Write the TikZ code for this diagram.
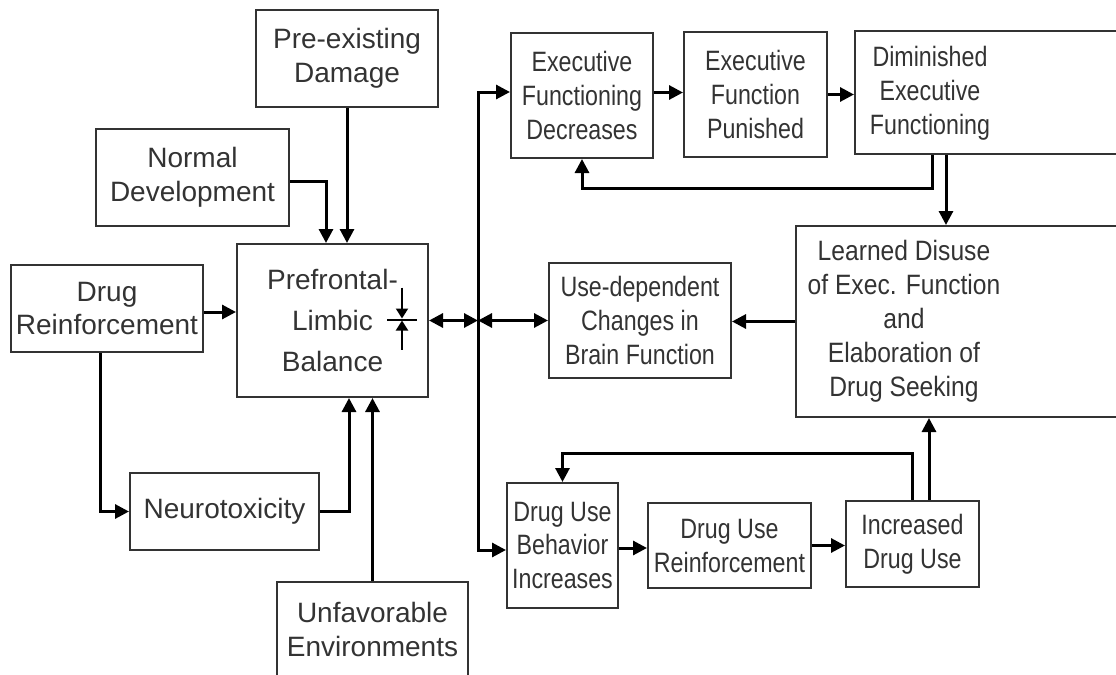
\documentclass[tikz,border=0pt]{standalone}
\usepackage{fontspec}
\setmainfont{Liberation Sans}
\newfontfamily\narrowfont[FakeStretch=0.83]{Liberation Sans}
\newfontfamily\disusefont[FakeStretch=0.88]{Liberation Sans}
\usetikzlibrary{arrows.meta, positioning}

\begin{document}
\begin{tikzpicture}[
    x=0.5pt, y=-0.5pt,
    every node/.style = {font=\fontsize{14}{17}\selectfont, text=black!80},
    box/.style        = {rectangle, draw=black!80, line width=1pt,
                         align=center, inner sep=1pt},
    narrowbox/.style  = {box, font=\fontsize{14}{17}\narrowfont},
    solidarrow/.style = {-{Triangle[length=7pt,width=7pt]}, line width=1.5pt},
    doublearrow/.style = {{Triangle[length=7pt,width=7pt]}-{Triangle[length=7pt,width=7pt]},
                          line width=1.5pt},
    smallarrow/.style = {-{Triangle[length=5pt,width=6pt]}, line width=1pt}
  ]
  \useasboundingbox (0,0) rectangle (1116,675);

  % left side
  \node[box, minimum width=91pt, minimum height=48.5pt] (predamage) at (347,58.5) {Pre-existing\\Damage};
  \node[box, minimum width=96.5pt, minimum height=48.5pt] (normaldev) at (192.5,177.5) {Normal\\Development};
  \node[box, minimum width=96pt, minimum height=43.5pt] (drugreinf) at (107,308.5) {Drug\\Reinforcement};
  \node[box, minimum width=95.5pt, minimum height=76.5pt,
        font=\fontsize{14}{20.5}\selectfont] (balance) at (332.5,320.5) {Prefrontal-\\Limbic\\Balance};
  \node[box, minimum width=94.5pt, minimum height=38.5pt] (neurotox) at (224.5,511.5) {Neurotoxicity};
  \node[box, minimum width=95.5pt, minimum height=47.5pt] (unfavenv) at (372.5,629.5) {Unfavorable\\Environments};

  % right side
  \node[narrowbox, minimum width=71pt, minimum height=62.5pt] (efdecr) at (582,95.5) {Executive\\Functioning\\Decreases};
  \node[narrowbox, minimum width=71.5pt, minimum height=62.5pt] (efpun) at (755.5,94.5) {Executive\\Function\\Punished};
  \node[narrowbox, minimum width=135pt, minimum height=61.5pt] (efdim) at (990,92.5) {};
  \node[align=center, font=\fontsize{14}{17}\narrowfont] (efdimtext) at (930,93) {Diminished\\Executive\\Functioning};
  \node[box, minimum width=164.5pt, minimum height=95.5pt] (disuse) at (960.5,321.5) {};
  \node[align=center, font=\fontsize{14}{17}\disusefont] (disusetext) at (904,321)
       {Learned Disuse\\of Exec. Function\\and\\Elaboration of\\Drug Seeking};
  \node[narrowbox, minimum width=91pt, minimum height=57.5pt] (usedep) at (640,320.5) {Use-dependent\\Changes in\\Brain Function};
  \node[narrowbox, minimum width=55.5pt, minimum height=62.5pt] (usebehav) at (562.5,545.5) {Drug Use\\Behavior\\Increases};
  \node[narrowbox, minimum width=81.5pt, minimum height=42.5pt] (usereinf) at (729.5,545.5) {Drug Use\\Reinforcement};
  \node[narrowbox, minimum width=66.5pt, minimum height=43pt] (moreuse) at (912.5,544) {Increased\\Drug Use};

  \coordinate (busmid) at (478,320.5);
  \coordinate (valve) at (402,319.5);

  % arrows into the balance box
  \draw[solidarrow] (predamage.south) -- (predamage.south |- balance.north);
  \draw[solidarrow] ([yshift=-1.75pt]normaldev.east) -| ([xshift=-3.25pt]balance.north);
  \draw[solidarrow] ([yshift=-1.75pt]drugreinf.east) -- ([yshift=-1.75pt]drugreinf.east -| balance.west);
  \draw[solidarrow] ([xshift=-3.5pt]drugreinf.south) |- (neurotox.west);
  \draw[solidarrow] (neurotox.east) -| ([xshift=8.25pt]balance.south);
  \draw[solidarrow] (unfavenv.north) -- (unfavenv.north |- balance.south);

  % balance symbol
  \draw[smallarrow] (valve) ++(0,-32) -- ++(0,31);
  \draw[smallarrow] (valve) ++(0,30) -- ++(0,-29);
  \draw[line width=1pt] (valve) ++(-15,0) -- ++(30,0);

  % bus
  \draw[doublearrow] (balance.east) -- (busmid);
  \draw[doublearrow] (busmid) -- (usedep.west);
  \draw[solidarrow] (busmid) |- ([yshift=1.75pt]efdecr.west);
  \draw[solidarrow] (busmid) |- ([yshift=-2.25pt]usebehav.west);

  % executive loop
  \draw[solidarrow] ([yshift=1.5pt]efdecr.east) -- ([yshift=1.5pt]efdecr.east -| efpun.west);
  \draw[solidarrow] (efpun.east) -- (efpun.east -| efdim.west);
  \draw[solidarrow] ([xshift=-29pt]efdim.south) -- ++(0,33) -| (efdecr.south);
  \draw[solidarrow] ([xshift=-22pt]efdim.south) -- ([xshift=-22pt]efdim.south |- disuse.north);
  \draw[solidarrow] (disuse.west) -- (disuse.west -| usedep.east);

  % drug use loop
  \draw[solidarrow] ([yshift=-1.25pt]usebehav.east) -- ([yshift=-1.25pt]usebehav.east -| usereinf.west);
  \draw[solidarrow] (usereinf.east) -- (usereinf.east -| moreuse.west);
  \draw[solidarrow] (moreuse.north) -- ++(0,-47) -| (usebehav.north);
  \draw[solidarrow] ([xshift=8.25pt]moreuse.north) -- ([xshift=8.25pt]moreuse.north |- disuse.south);

\end{tikzpicture}
\end{document}
